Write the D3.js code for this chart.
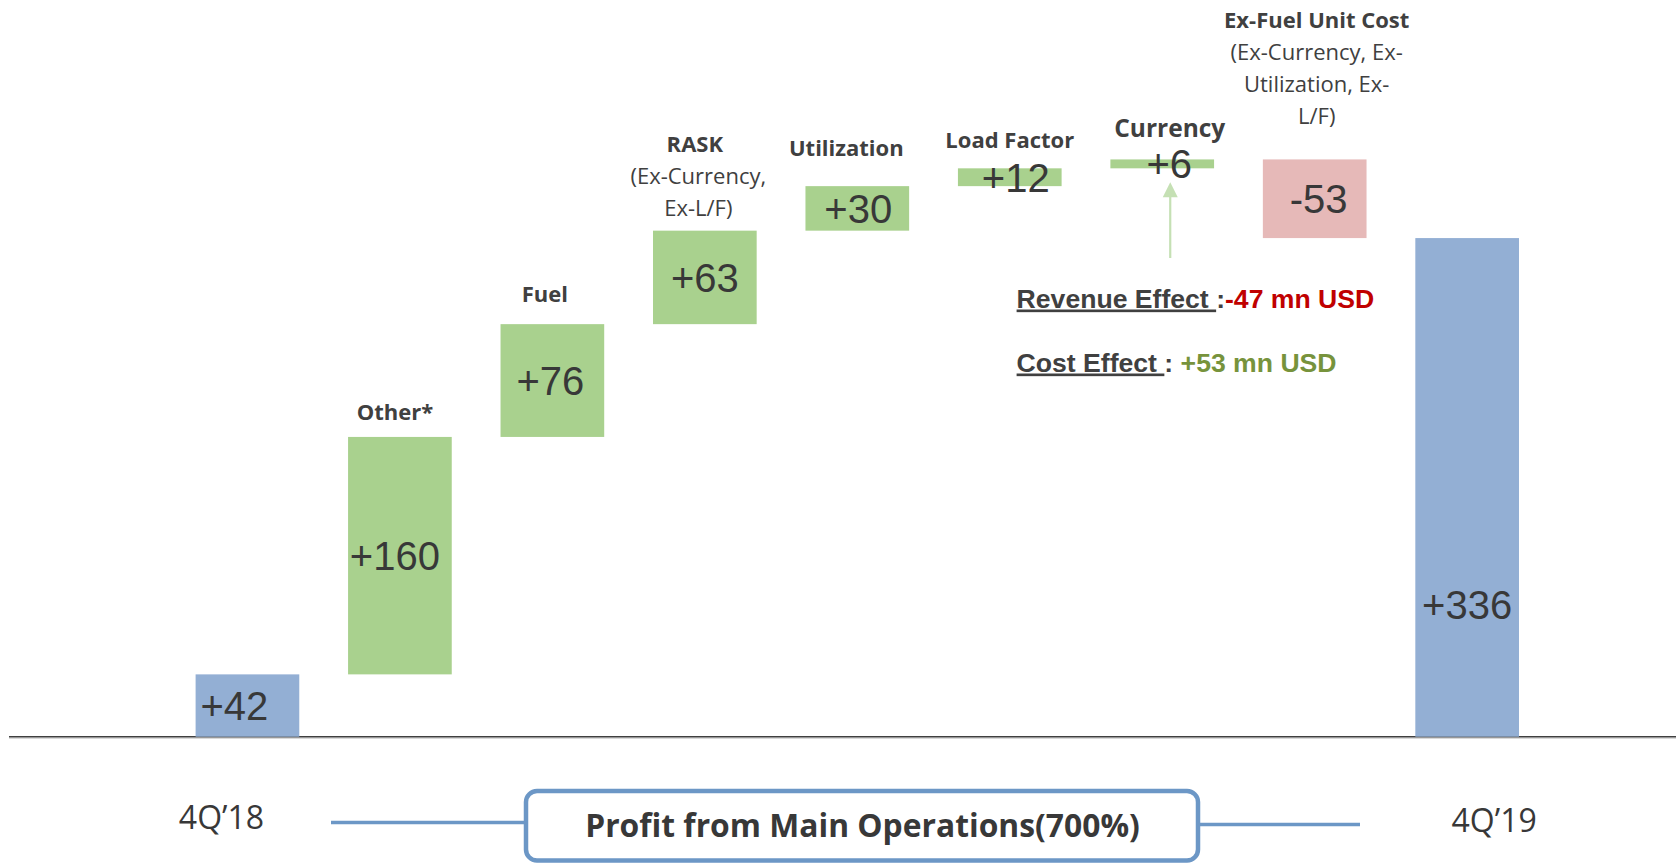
<!DOCTYPE html>
<html><head><meta charset="utf-8">
<script src="https://cdn.jsdelivr.net/npm/d3@7"></script>
<style>html,body{margin:0;padding:0;background:#fff;} svg{display:block;}</style>
</head><body>
<svg id="chart" width="1676" height="863"></svg>
<script>
// ---- data ----
const categories = ["4Q\u201918", "Other*", "Fuel", "RASK", "Utilization", "Load Factor", "Currency", "Ex-Fuel Unit Cost", "4Q\u201919"];
const values = [42, 160, 76, 63, 30, 12, 6, -53, 336];
const kinds = ["total", "delta", "delta", "delta", "delta", "delta", "delta", "delta", "total"];
const valueLabels = ["+42", "+160", "+76", "+63", "+30", "+12", "+6", "-53", "+336"];
const titleLabels = ["", "Other*", "Fuel", "RASK", "Utilization", "Load Factor", "Currency", "Ex-Fuel Unit Cost", ""];
const subLabels = [[], [], [], ["(Ex-Currency,", "Ex-L/F)"], [], [], [], ["(Ex-Currency, Ex-", "Utilization, Ex-", "L/F)"], []];
const axisLabels = ["4Q\u201918", "4Q\u201919"];
const boxTitle = "Profit from Main Operations(700%)";
const revenueEffect = { label: "Revenue Effect ", value: "-47 mn USD" };
const costEffect = { label: "Cost Effect ", value: "+53 mn USD" };

// ---- layout (not data) ----
const labelGap = [0, 17, 22, 15, 30, 20.7, 22, 35, 0];        // gap bar top -> label baseline
const titleDx = [0, -5, -7.5, -10, -11, 0, 7.5, 2, 0];          // title nudges
const subDx = [0, 0, 0, -6.5, 0, 0, 0, 2, 0];
const valueDx = [-13, -5, -2, 0, 1, 6, 7, 4, 0];                 // value label nudges

const svg = d3.select("#chart");
const x = d3.scaleBand().domain(categories).range([195.6, 1519]).paddingInner(0.32).paddingOuter(0);
const y = d3.scaleLinear().domain([0, 400]).range([736.7, 736.7 - 400 * 1.484]);

const colors = { total: "#93AFD4", up: "#A9D18E", down: "#E6B9B8" };
const textDark = "#383838";

// waterfall geometry
let cum = 0;
const bars = categories.map((c, i) => {
  let y0, y1;
  if (kinds[i] === "total") { y0 = 0; y1 = values[i]; cum = values[i]; }
  else { y0 = cum; y1 = cum + values[i]; cum = y1; }
  return { cat: c, i, lo: Math.min(y0, y1), hi: Math.max(y0, y1), v: values[i], kind: kinds[i] };
});

// baseline
svg.append("line").attr("x1", 9).attr("x2", 1676).attr("y1", y(0) + 1.5).attr("y2", y(0) + 1.5)
  .attr("stroke", "#c8c8c8").attr("stroke-width", 1);
svg.append("line").attr("x1", 9).attr("x2", 1676).attr("y1", y(0)).attr("y2", y(0))
  .attr("stroke", "#404040").attr("stroke-width", 1.5);

// bars
svg.append("g").selectAll("rect").data(bars).join("rect")
  .attr("x", d => x(d.cat))
  .attr("width", x.bandwidth())
  .attr("y", d => y(d.hi))
  .attr("height", d => y(d.lo) - y(d.hi))
  .attr("fill", d => d.kind === "total" ? colors.total : (d.v >= 0 ? colors.up : colors.down));

// value labels
svg.append("g").selectAll("text").data(bars).join("text")
  .attr("x", d => x(d.cat) + x.bandwidth() / 2 + valueDx[d.i])
  .attr("y", d => {
    const mid = (d.i === bars.length - 1) ? y(d.v * 0.265) : (y(d.lo) + y(d.hi)) / 2;
    return mid + 14.3;
  })
  .attr("text-anchor", "middle")
  .attr("font-family", "'Liberation Sans', Arial, sans-serif")
  .attr("font-size", 40)
  .attr("fill", textDark)
  .text(d => valueLabels[d.i]);

// category labels
const catG = svg.append("g");
bars.forEach(d => {
  if (!titleLabels[d.i]) return;
  const cx = x(d.cat) + x.bandwidth() / 2;
  const subs = subLabels[d.i];
  const lh = 32;
  const lastBase = y(d.hi) - labelGap[d.i];
  const n = subs.length;
  const big = d.cat === "Currency";
  catG.append("text")
    .attr("x", cx + titleDx[d.i]).attr("y", lastBase - n * lh)
    .attr("text-anchor", "middle")
    .attr("font-family", "'Open Sans', sans-serif")
    .attr("font-weight", 700)
    .attr("font-size", big ? 24.5 : 22)
    .attr("fill", "#404040")
    .text(titleLabels[d.i]);
  subs.forEach((s, k) => {
    catG.append("text")
      .attr("x", cx + subDx[d.i]).attr("y", lastBase - (n - 1 - k) * lh)
      .attr("text-anchor", "middle")
      .attr("font-family", "'Open Sans', sans-serif")
      .attr("font-size", 22)
      .attr("fill", "#404040")
      .text(s);
  });
});

// arrow from annotation to Currency bar
const cur = bars[6];
const ax = x(cur.cat) + x.bandwidth() / 2 + 8;
const tipY = y(cur.lo) + 14;
svg.append("line").attr("x1", ax).attr("x2", ax).attr("y1", tipY + 12).attr("y2", 258)
  .attr("stroke", "#C5E0B4").attr("stroke-width", 2.2);
svg.append("path")
  .attr("d", `M${ax},${tipY} L${ax - 7.5},${tipY + 15} L${ax + 7.5},${tipY + 15} Z`)
  .attr("fill", "#C5E0B4");

// effect annotations
function effect(yy, item, sep, col) {
  const t = svg.append("text")
    .attr("x", 1016.6).attr("y", yy)
    .attr("font-family", "'Liberation Sans', Arial, sans-serif")
    .attr("font-weight", 700).attr("font-size", 26.6);
  t.append("tspan").attr("fill", "#404040").attr("text-decoration", "underline").text(item.label);
  t.append("tspan").attr("fill", "#404040").text(sep);
  t.append("tspan").attr("fill", col).text(item.value);
}
effect(307.5, revenueEffect, ":", "#C00000");
effect(371.5, costEffect, ": ", "#77933C");

// bottom axis labels
svg.append("text").attr("x", x(categories[0]) + x.bandwidth() / 2 - 26).attr("y", 828.5)
  .attr("text-anchor", "middle").attr("font-family", "'Open Sans', sans-serif")
  .attr("font-size", 32).attr("fill", textDark).text(axisLabels[0]);
svg.append("text").attr("x", x(categories[8]) + x.bandwidth() / 2 + 27).attr("y", 831.5)
  .attr("text-anchor", "middle").attr("font-family", "'Open Sans', sans-serif")
  .attr("font-size", 32).attr("fill", textDark).text(axisLabels[1]);

// bracket lines and box
const boxCol = "#6C97C6";
svg.append("line").attr("x1", 331).attr("x2", 524).attr("y1", 822.5).attr("y2", 822.5)
  .attr("stroke", boxCol).attr("stroke-width", 3.5);
svg.append("line").attr("x1", 1200).attr("x2", 1360).attr("y1", 824.5).attr("y2", 824.5)
  .attr("stroke", boxCol).attr("stroke-width", 3.5);
svg.append("rect").attr("x", 526).attr("y", 791).attr("width", 672).attr("height", 69.5)
  .attr("rx", 11).attr("ry", 11)
  .attr("fill", "#fff").attr("stroke", boxCol).attr("stroke-width", 4.5);
svg.append("text").attr("x", 862.5).attr("y", 836.5)
  .attr("text-anchor", "middle").attr("font-family", "'Open Sans', sans-serif")
  .attr("font-weight", 700).attr("font-size", 31.8).attr("fill", textDark).text(boxTitle);
</script>
</body></html>
